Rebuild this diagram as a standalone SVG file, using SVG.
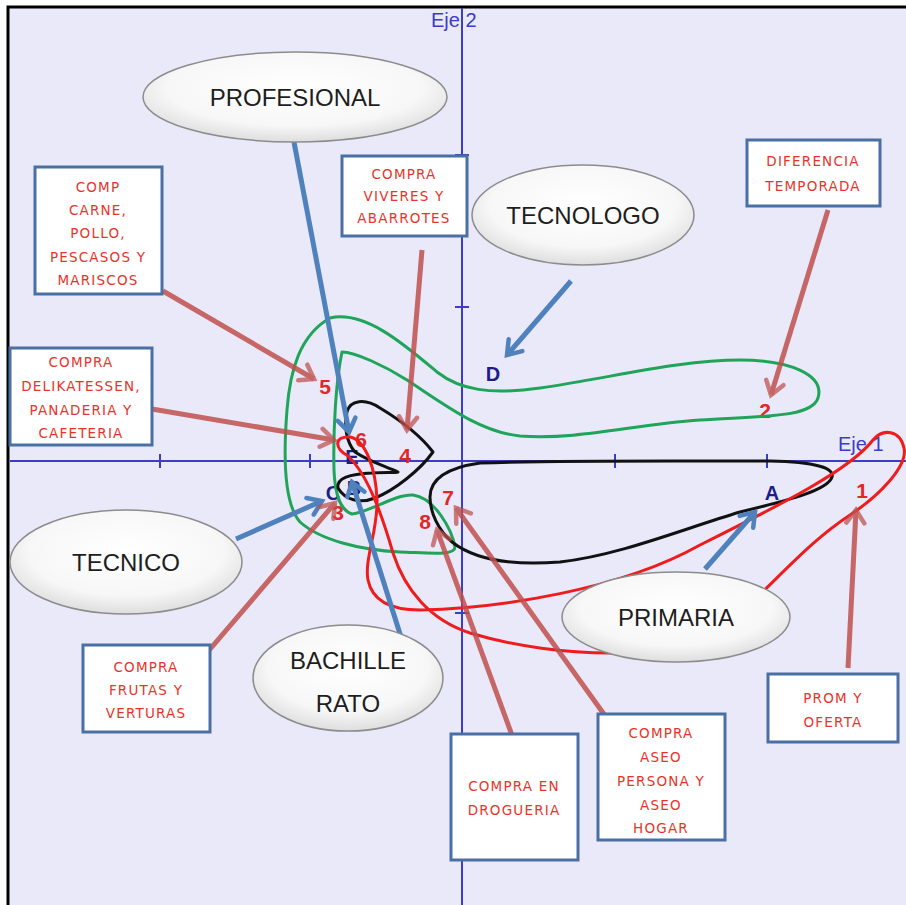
<svg xmlns="http://www.w3.org/2000/svg" width="906" height="905" viewBox="0 0 906 905">
  <defs>
    <style>
      .axis { stroke: #3c3cc8; stroke-width: 2; fill: none; }
      .axlbl { font-family: "Liberation Sans", Arial, sans-serif; font-size: 20px; fill: #3c3cc8; }
      .ell { fill: url(#ellFill); stroke: #8c8c8c; stroke-width: 1.5; }
      .elbl { font-family: "Liberation Sans", Arial, sans-serif; font-size: 24px; fill: #1e1e1e; text-anchor: middle; }
      .box { fill: #ffffff; stroke: #4a6fa5; stroke-width: 3; }
      .blbl { font-family: "DejaVu Sans", "Liberation Sans", sans-serif; font-size: 13.5px; letter-spacing: 1.2px; fill: #e8332b; text-anchor: middle; }
      .num { font-family: "Liberation Sans", Arial, sans-serif; font-size: 21px; font-weight: bold; fill: #e02828; text-anchor: middle; }
      .let { font-family: "Liberation Sans", Arial, sans-serif; font-size: 20px; font-weight: bold; fill: #1c1c8a; text-anchor: middle; }
      .cv { fill: none; stroke-width: 3; stroke-linejoin: round; }
      .green { stroke: #1fa45a; }
      .black { stroke: #111111; }
      .red { stroke: #ee1c1c; }
      .arR { stroke: #c0504d; stroke-width: 5; fill: none; opacity: 0.85; marker-end: url(#headR); }
      .arB { stroke: #4f81bd; stroke-width: 5; fill: none; marker-end: url(#headB); }
    </style>
    <radialGradient id="ellFill" cx="50%" cy="40%" r="60%">
      <stop offset="0" stop-color="#ffffff"/>
      <stop offset="0.7" stop-color="#f7f7f7"/>
      <stop offset="1" stop-color="#dedede"/>
    </radialGradient>
    <marker id="headR" markerUnits="userSpaceOnUse" markerWidth="24" markerHeight="24" refX="16" refY="12" orient="auto">
      <path d="M3,3 L16,12 L3,21" fill="none" stroke="#c0504d" stroke-width="4.5" stroke-linecap="round" opacity="0.85"/>
    </marker>
    <marker id="headB" markerUnits="userSpaceOnUse" markerWidth="24" markerHeight="24" refX="16" refY="12" orient="auto">
      <path d="M3,3 L16,12 L3,21" fill="none" stroke="#4f81bd" stroke-width="4.5" stroke-linecap="round"/>
    </marker>
  </defs>

  <!-- page and frame -->
  <rect x="0" y="0" width="906" height="905" fill="#ffffff"/>
  <rect x="8" y="7" width="898" height="898" fill="#e9e9f9"/>
  <path d="M8,905 V7 H906" fill="none" stroke="#000000" stroke-width="3"/>

  <!-- axes -->
  <g id="axes">
    <line class="axis" x1="462" y1="8" x2="462" y2="905"/>
    <line class="axis" x1="10" y1="461" x2="906" y2="461"/>
    <path class="axis" d="M160,454 V468 M310,454 V468 M615,454 V468 M767,454 V468"/>
    <path class="axis" d="M455,155 H469 M455,307 H469 M455,613 H469 M455,765 H469"/>
    <text class="axlbl" x="431" y="27">Eje 2</text>
    <text class="axlbl" x="838" y="451">Eje 1</text>
  </g>

  <!-- point labels -->
  <g id="points">
    <text class="let" x="493" y="381">D</text>
    <text class="let" x="772" y="500">A</text>
    <text class="let" x="333" y="500">C</text>
    <text class="let" x="354" y="495">B</text>
    <text class="let" x="352" y="464">E</text>
    <text class="num" x="325" y="394">5</text>
    <text class="num" x="765" y="418">2</text>
    <text class="num" x="405" y="463">4</text>
    <text class="num" x="361" y="447">6</text>
    <text class="num" x="448" y="505">7</text>
    <text class="num" x="425" y="529">8</text>
    <text class="num" x="338" y="520">3</text>
    <text class="num" x="862" y="498">1</text>
  </g>

  <!-- cluster outlines -->
  <g id="clusters">
    <path class="cv green" d="M330,318 C365,310 405,345 437,372 C460,390 490,395 540,388 C610,378 680,360 740,360 C790,360 825,375 818,398 C812,418 760,416 700,420 C630,425 580,440 520,436 C480,432 445,405 407,380 C385,366 355,352 342,352 C336,380 333,430 334,470 C335,495 340,510 352,514 C370,512 395,494 413,495 C435,498 452,530 455,547 C455,556 430,553 400,552 C360,550 320,540 300,522 C285,505 283,460 287,410 C290,370 300,335 330,318 Z"/>
    <path class="cv black" d="M347,412 C350,400 365,398 380,408 C400,420 420,435 433,452 C420,470 395,490 375,498 C360,504 345,500 338,488 C336,478 350,474 372,473 C385,472 395,473 398,472 C385,466 370,462 355,452 C346,442 344,425 347,412 Z"/>
    <path class="cv black" d="M430,497 C430,480 445,468 480,463 C560,460 680,461 770,461 C815,462 835,468 832,477 C828,490 790,500 740,512 C680,530 620,555 560,562 C510,566 475,560 452,542 C438,530 430,512 430,497 Z"/>
    <path class="cv red" d="M470,633 C430,620 405,590 393,553 C382,515 368,475 348,456 C334,448 334,436 350,437 C366,440 376,470 377,500 C378,530 364,560 368,580 C372,600 390,610 420,610 C500,608 620,590 700,545 C780,505 850,470 873,440 C883,428 900,430 904,448 C908,466 880,495 850,515 C800,548 770,590 720,630 C680,660 560,660 470,633 Z"/>
  </g>

  <!-- connectors -->
  <g id="connectors">
    <line class="arB" x1="294" y1="142" x2="349" y2="432"/>
    <line class="arB" x1="571" y1="281" x2="507" y2="355"/>
    <line class="arB" x1="236" y1="539" x2="322" y2="501"/>
    <line class="arB" x1="705" y1="569" x2="755" y2="512"/>
    <line class="arB" x1="401" y1="637" x2="352" y2="482"/>
    <line class="arR" x1="163" y1="291" x2="314" y2="379"/>
    <line class="arR" x1="152" y1="409" x2="334" y2="440"/>
    <line class="arR" x1="422" y1="250" x2="407" y2="430"/>
    <line class="arR" x1="828" y1="210" x2="771" y2="395"/>
    <line class="arR" x1="205" y1="655" x2="335" y2="503"/>
    <line class="arR" x1="513" y1="738" x2="437" y2="530"/>
    <line class="arR" x1="606" y1="717" x2="456" y2="508"/>
    <line class="arR" x1="848" y1="668" x2="856" y2="510"/>
  </g>

  <!-- group ellipses -->
  <g id="profesional">
    <ellipse class="ell" cx="295" cy="97" rx="152" ry="45"/>
    <text class="elbl" x="295" y="106">PROFESIONAL</text>
  </g>
  <g id="tecnologo">
    <ellipse class="ell" cx="583" cy="215" rx="111" ry="50"/>
    <text class="elbl" x="583" y="224">TECNOLOGO</text>
  </g>
  <g id="tecnico">
    <ellipse class="ell" cx="126" cy="562" rx="116" ry="52"/>
    <text class="elbl" x="126" y="571">TECNICO</text>
  </g>
  <g id="primaria">
    <ellipse class="ell" cx="676" cy="617" rx="114" ry="45"/>
    <text class="elbl" x="676" y="626">PRIMARIA</text>
  </g>
  <g id="bachillerato">
    <ellipse class="ell" cx="348" cy="678" rx="95" ry="53"/>
    <text class="elbl" x="348" y="669">BACHILLE</text>
    <text class="elbl" x="348" y="712">RATO</text>
  </g>

  <!-- purchase-type boxes -->
  <g id="carne">
    <rect class="box" x="35" y="167" width="127" height="127"/>
    <text class="blbl" x="98" y="192">COMP</text>
    <text class="blbl" x="98" y="215">CARNE,</text>
    <text class="blbl" x="98" y="238">POLLO,</text>
    <text class="blbl" x="98" y="262">PESCASOS Y</text>
    <text class="blbl" x="98" y="285">MARISCOS</text>
  </g>
  <g id="delikatessen">
    <rect class="box" x="10" y="348" width="142" height="97"/>
    <text class="blbl" x="81" y="367">COMPRA</text>
    <text class="blbl" x="81" y="391">DELIKATESSEN,</text>
    <text class="blbl" x="81" y="415">PANADERIA Y</text>
    <text class="blbl" x="81" y="438">CAFETERIA</text>
  </g>
  <g id="viveres">
    <rect class="box" x="342" y="156" width="125" height="80"/>
    <text class="blbl" x="404" y="179">COMPRA</text>
    <text class="blbl" x="404" y="201">VIVERES Y</text>
    <text class="blbl" x="404" y="223">ABARROTES</text>
  </g>
  <g id="temporada">
    <rect class="box" x="747" y="140" width="133" height="66"/>
    <text class="blbl" x="813" y="166">DIFERENCIA</text>
    <text class="blbl" x="813" y="191">TEMPORADA</text>
  </g>
  <g id="frutas">
    <rect class="box" x="83" y="645" width="127" height="87"/>
    <text class="blbl" x="146" y="672">COMPRA</text>
    <text class="blbl" x="146" y="695">FRUTAS Y</text>
    <text class="blbl" x="146" y="718">VERTURAS</text>
  </g>
  <g id="drogueria">
    <rect class="box" x="451" y="734" width="127" height="126"/>
    <text class="blbl" x="514" y="791">COMPRA EN</text>
    <text class="blbl" x="514" y="815">DROGUERIA</text>
  </g>
  <g id="aseo">
    <rect class="box" x="598" y="714" width="127" height="126"/>
    <text class="blbl" x="661" y="738">COMPRA</text>
    <text class="blbl" x="661" y="762">ASEO</text>
    <text class="blbl" x="661" y="786">PERSONA Y</text>
    <text class="blbl" x="661" y="810">ASEO</text>
    <text class="blbl" x="661" y="833">HOGAR</text>
  </g>
  <g id="oferta">
    <rect class="box" x="768" y="674" width="130" height="68"/>
    <text class="blbl" x="833" y="703">PROM Y</text>
    <text class="blbl" x="833" y="727">OFERTA</text>
  </g>
</svg>
